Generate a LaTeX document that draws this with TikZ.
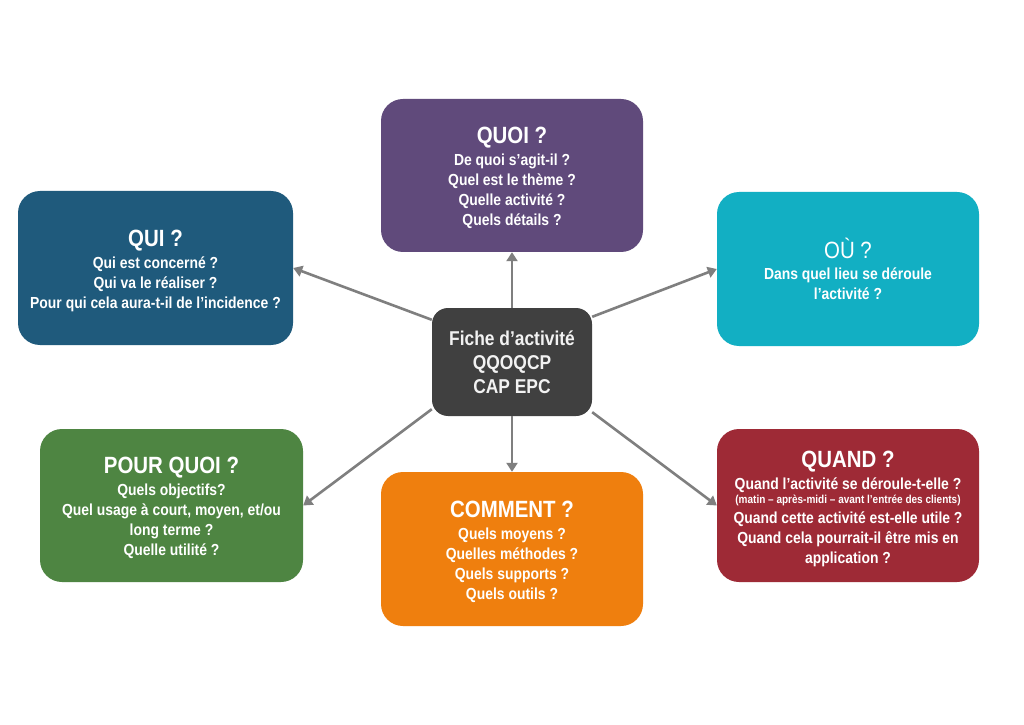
\documentclass[tikz,border=0pt]{standalone}
\usepackage{fontspec}
\setmainfont[FakeStretch=0.87]{Liberation Sans}
\usetikzlibrary{arrows.meta}
\definecolor{cquoi}{HTML}{604A7B}
\definecolor{cqui}{HTML}{1F5A7C}
\definecolor{cou}{HTML}{12AFC3}
\definecolor{ccenter}{HTML}{404040}
\definecolor{cpq}{HTML}{4E8542}
\definecolor{ccomment}{HTML}{EF7F0E}
\definecolor{cquand}{HTML}{9E2A36}
\definecolor{carrow}{HTML}{7F7F7F}
\newcommand{\boxtitle}[1]{{\fontsize{23.5}{25}\selectfont #1}}
\newcommand{\smallnote}[1]{{\fontsize{11.5}{15}\selectfont #1}}
\begin{document}
\begin{tikzpicture}[x=1pt,y=1pt,
  qbox/.style={rounded corners=22pt, inner sep=0pt},
  qtext/.style={text=white, align=center, inner sep=0pt,
    font=\fontsize{16}{20}\selectfont\bfseries},
  cbox/.style={rounded corners=16pt, text=white!95!black, align=center, inner sep=0pt,
    font=\fontsize{20}{24}\selectfont\bfseries},
  conn/.style={draw=carrow, line width=2.6pt, -{Triangle[length=9pt,width=11pt]}}]
\useasboundingbox (0,0) rectangle (1024,724);
\fill[white] (0,0) rectangle (1024,724);

% boxes
\node[qbox, fill=cquoi, minimum width=262pt, minimum height=153pt] (quoi) at (512,548.5) {};
\node[qbox, fill=cqui, minimum width=275pt, minimum height=154pt] (qui) at (155.5,456) {};
\node[qbox, fill=cou, minimum width=262pt, minimum height=154pt] (ou) at (848,455) {};
\node[cbox, fill=ccenter, minimum width=160pt, minimum height=108pt] (c) at (512,362)
  {Fiche d’activité\\QQOQCP\\CAP EPC};
\node[qbox, fill=cpq, minimum width=263pt, minimum height=153pt] (pq) at (171.5,218.5) {};
\node[qbox, fill=ccomment, minimum width=262pt, minimum height=154pt] (comment) at (512,175) {};
\node[qbox, fill=cquand, minimum width=262pt, minimum height=153pt] (quand) at (848,218.5) {};

% texts
\node[qtext] (quoi-t) at ([yshift=-2.5pt]quoi.center)
  {\boxtitle{QUOI ?}\\[2pt]De quoi s’agit-il ?\\Quel est le thème ?\\Quelle activité ?\\Quels détails ?};
\node[qtext] (qui-t) at ([yshift=-2.5pt]qui.center)
  {\boxtitle{QUI ?}\\[2pt]Qui est concerné ?\\Qui va le réaliser ?\\Pour qui cela aura-t-il de l’incidence ?};
\node[qtext] (ou-t) at ([yshift=0.5pt]ou.center)
  {\boxtitle{\mdseries OÙ ?}\\[1pt]Dans quel lieu se déroule\\l’activité ?};
\node[qtext] (pq-t) at ([yshift=-2.5pt]pq.center)
  {\boxtitle{POUR QUOI ?}\\[2pt]Quels objectifs?\\Quel usage à court, moyen, et/ou\\long terme ?\\Quelle utilité ?};
\node[qtext] (comment-t) at ([yshift=-2.5pt]comment.center)
  {\boxtitle{COMMENT ?}\\[2pt]Quels moyens ?\\Quelles méthodes ?\\Quels supports ?\\Quels outils ?};
\node[qtext] (quand-t) at ([yshift=-3pt]quand.center)
  {\boxtitle{QUAND ?}\\[2pt]Quand l’activité se déroule-t-elle ?\\[-6pt]\smallnote{(matin – après-midi – avant l’entrée des clients)}\\[0pt]Quand cette activité est-elle utile ?\\Quand cela pourrait-il être mis en\\application ?};

% connectors
\draw[conn] (c.north) -- (quoi.south);
\draw[conn] (c.south) -- (comment.north);
\draw[conn] ([yshift=-12pt]c.north west) -- (qui.east);
\draw[conn] ([yshift=-9pt]c.north east) -- (ou.west);
\draw[conn] ([yshift=7pt]c.south west) -- (pq.east);
\draw[conn] ([yshift=4pt]c.south east) -- (quand.west);
\end{tikzpicture}
\end{document}
